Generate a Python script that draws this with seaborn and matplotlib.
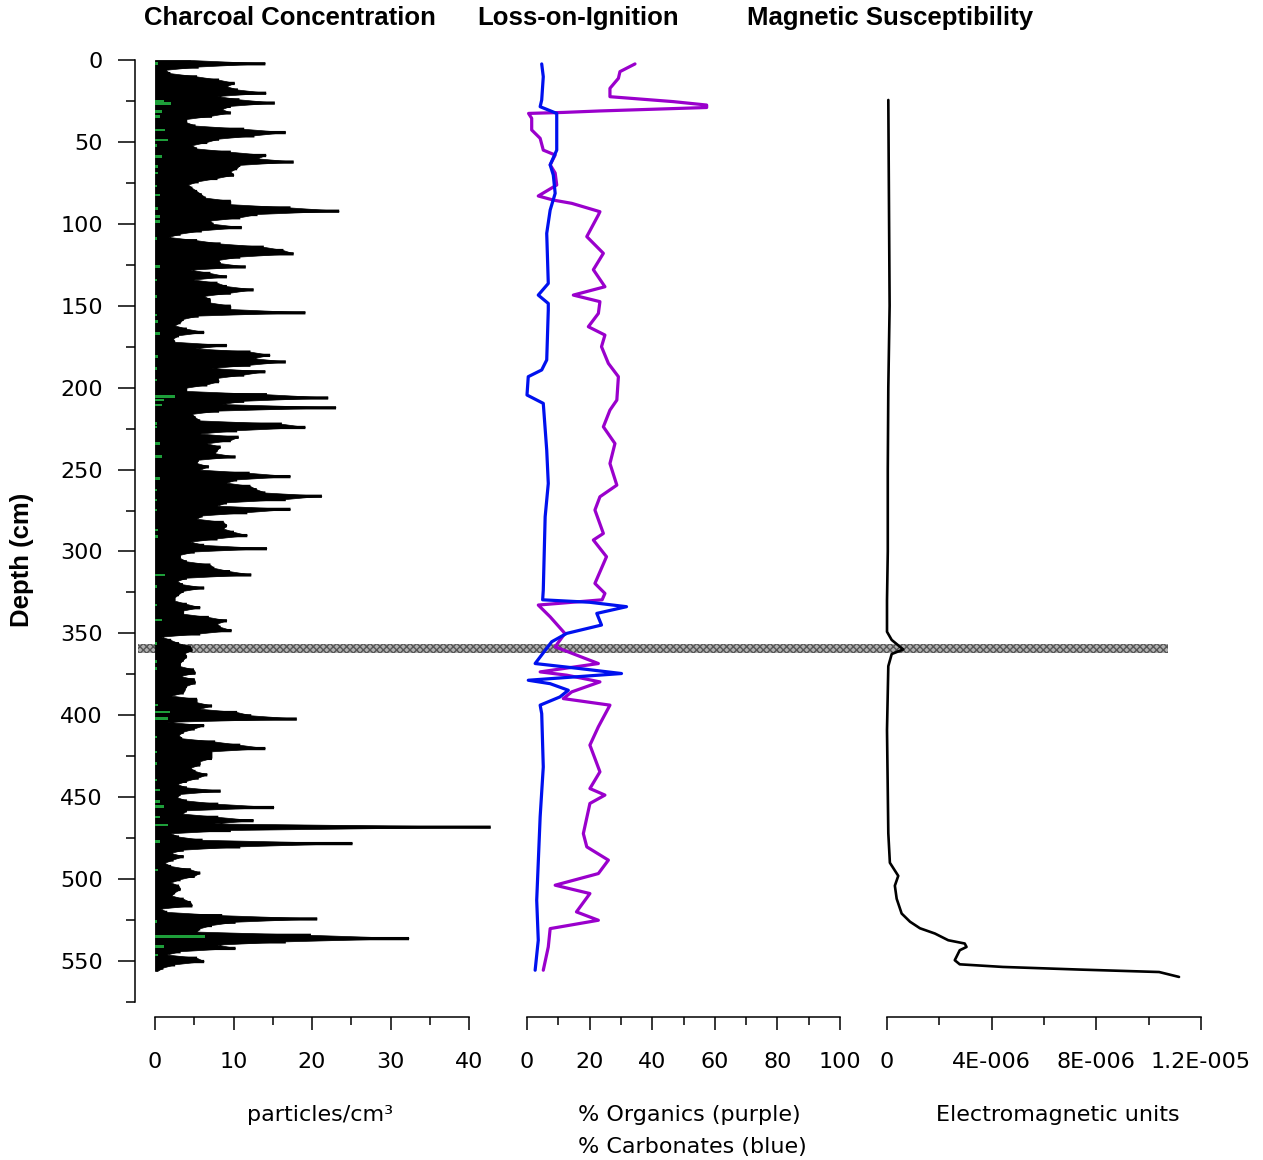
import numpy as np
import matplotlib
matplotlib.use("Agg")
import matplotlib.pyplot as plt
import matplotlib.transforms as mtransforms
from matplotlib.patches import Rectangle
from matplotlib.ticker import MultipleLocator, FixedLocator
import seaborn as sns

# Charcoal concentration (particles/cm3), one sample every 2 cm from 0 cm
charcoal = [
    4.5, 14.0, 5.5, 1.3, 1.9, 5.3, 8.1, 10.1, 9.1, 10.5,
    14.1, 7.9, 10.7, 15.2, 9.6, 8.5, 9.6, 7.2, 4.0, 4.0,
    5.1, 11.3, 16.6, 12.6, 8.1, 6.6, 4.7, 5.3, 9.6, 14.1,
    13.0, 17.6, 10.8, 10.4, 9.6, 10.0, 7.9, 5.5, 4.2, 4.7,
    5.3, 5.9, 6.4, 9.6, 9.6, 17.2, 23.4, 13.0, 10.8, 7.0,
    7.4, 11.0, 5.9, 3.2, 1.7, 5.3, 8.3, 13.8, 16.3, 17.6,
    10.8, 8.1, 8.3, 11.5, 4.5, 7.0, 9.1, 4.9, 7.9, 9.1,
    12.5, 9.6, 6.2, 7.0, 7.0, 9.6, 9.6, 19.1, 5.5, 3.6,
    3.2, 2.5, 4.0, 6.2, 3.0, 2.3, 2.5, 9.1, 5.1, 12.1,
    14.6, 12.5, 16.6, 12.1, 7.2, 14.0, 11.3, 8.0, 8.1, 6.6,
    4.0, 4.0, 14.2, 22.0, 11.3, 8.5, 23.0, 8.1, 4.7, 5.1,
    5.7, 16.1, 19.1, 10.4, 5.7, 10.6, 9.6, 6.6, 8.3, 7.9,
    7.6, 10.2, 5.5, 5.3, 6.8, 5.7, 12.0, 17.2, 10.4, 9.1,
    12.1, 12.9, 14.0, 21.2, 16.6, 9.1, 7.9, 17.2, 11.7, 6.0,
    5.3, 8.7, 9.1, 8.7, 10.0, 11.7, 7.9, 4.5, 6.2, 14.2,
    5.0, 3.2, 3.2, 4.0, 7.0, 7.5, 9.5, 12.2, 4.0, 2.8,
    3.5, 6.2, 3.6, 3.0, 2.5, 2.5, 4.0, 5.7, 3.6, 3.6,
    6.8, 9.1, 7.9, 8.3, 9.7, 5.7, 0.8, 2.0, 3.0, 4.5,
    4.7, 3.8, 4.0, 3.6, 3.2, 3.2, 4.9, 5.1, 3.2, 5.0,
    5.1, 4.0, 3.8, 3.6, 2.1, 5.3, 5.3, 7.2, 5.7, 10.4,
    12.2, 18.0, 1.5, 6.2, 5.0, 3.6, 3.0, 3.4, 7.6, 10.8,
    14.0, 7.2, 7.2, 7.2, 5.7, 5.7, 4.5, 5.1, 6.6, 5.5,
    4.0, 2.8, 4.0, 8.3, 3.2, 2.8, 4.0, 8.0, 15.1, 4.0,
    3.5, 8.0, 12.5, 7.5, 42.7, 9.6, 2.0, 3.0, 6.0, 25.1,
    10.8, 3.6, 2.0, 3.6, 2.3, 1.2, 2.0, 4.5, 5.7, 5.0,
    3.2, 2.0, 3.0, 3.2, 2.5, 2.1, 3.6, 4.5, 4.7, 0.7,
    1.5, 8.5, 20.6, 10.2, 7.2, 5.7, 5.3, 19.8, 32.3, 16.6,
    7.9, 10.2, 3.2, 1.5, 5.3, 6.2, 2.5, 1.0, 0.3,
]
charcoal_depth = np.arange(len(charcoal)) * 2

# second (green) charcoal series, only the visible spikes
green_depth = [2.0, 25.4, 26.5, 31.5, 34.6, 42.7, 48.8, 52.0, 59.0, 65.0,
               69.0, 77.0, 82.4, 90.5, 95.6, 98.7, 108.9, 126.0, 134.3, 144.5,
               155.7, 159.7, 166.9, 181.0, 188.3, 195.4, 205.5, 207.5, 210.6, 221.8,
               224.0, 234.0, 242.0, 255.4, 262.5, 268.6, 274.7, 286.9, 291.0, 314.4,
               321.5, 332.7, 341.9, 356.2, 367.3, 371.4, 393.8, 398.0, 402.0, 413.2,
               422.3, 429.4, 439.6, 445.7, 452.8, 455.8, 462.0, 467.0, 477.0, 494.5,
               526.0, 535.2, 541.3, 546.4]
green_value = [0.4, 1.1, 2.0, 0.9, 0.6, 1.3, 1.6, 0.3, 0.9, 0.4,
               0.4, 0.3, 0.7, 0.4, 0.6, 0.6, 0.3, 0.6, 0.3, 0.2,
               0.3, 0.4, 0.7, 0.4, 0.3, 0.3, 2.5, 1.2, 0.9, 0.3,
               0.3, 0.6, 0.9, 0.6, 0.3, 0.3, 0.3, 0.4, 0.4, 1.3,
               0.3, 0.3, 0.9, 0.2, 0.3, 0.3, 0.4, 1.9, 1.7, 0.3,
               0.3, 0.3, 0.3, 0.6, 0.6, 1.1, 0.6, 1.7, 0.7, 0.4,
               0.3, 6.4, 1.1, 0.4]

# Loss-on-ignition, % organics (purple)
organics_depth = [2.4, 7.1, 11.2, 17.3, 22.4, 25.4, 27.5, 29.0, 31.1, 32.0,
                  32.6, 35.6, 42.7, 47.8, 55.0, 58.0, 64.0, 69.0, 76.3, 83.0,
                  85.5, 87.5, 92.6, 94.6, 107.8, 118.0, 128.0, 138.4, 143.5, 147.5,
                  154.7, 162.8, 167.9, 175.0, 185.2, 193.3, 207.6, 213.7, 223.9, 234.1,
                  246.3, 259.5, 266.6, 274.7, 289.0, 293.0, 303.2, 319.5, 325.6, 329.5,
                  332.7, 339.9, 350.0, 358.2, 368.4, 373.5, 375.5, 379.6, 385.7, 389.8,
                  393.8, 407.0, 418.2, 434.5, 444.7, 448.7, 453.8, 472.2, 480.3, 488.4,
                  496.6, 503.7, 508.8, 520.0, 525.1, 530.2, 541.4, 555.6]
organics = [34.5, 29.7, 29.2, 26.5, 26.5, 46.7, 57.4, 57.4, 23.3, 11.6,
            0.5, 1.5, 1.5, 4.2, 5.2, 9.0, 7.4, 9.0, 9.5, 3.6,
            8.4, 14.3, 23.3, 22.8, 19.1, 24.4, 21.2, 24.9, 14.8, 23.3,
            22.8, 19.6, 24.9, 23.8, 26.0, 29.2, 28.7, 26.5, 24.4, 28.1,
            26.5, 28.7, 23.3, 21.7, 24.4, 21.2, 25.4, 21.7, 24.9, 24.0,
            3.6, 7.4, 12.1, 9.0, 22.8, 4.2, 12.7, 23.3, 14.3, 11.6,
            26.5, 22.8, 20.1, 23.3, 20.1, 24.9, 20.1, 18.0, 19.1, 26.0,
            22.8, 9.0, 20.1, 15.8, 22.8, 7.4, 6.8, 5.2]

# Loss-on-ignition, % carbonates (blue)
carbonates_depth = [2.4, 10.2, 24.4, 28.5, 32.6, 55.0, 64.0, 70.2, 81.4, 91.6,
                    105.8, 136.4, 143.5, 148.6, 152.6, 183.1, 189.2, 193.3, 204.5, 209.6,
                    238.1, 258.5, 278.8, 323.6, 329.5, 331.0, 333.7, 337.8, 344.9, 350.0,
                    355.1, 368.4, 371.5, 374.5, 378.6, 380.7, 384.7, 388.8, 393.8, 399.0,
                    431.5, 462.0, 512.9, 537.3, 555.6]
carbonates = [4.7, 5.2, 4.7, 4.2, 9.5, 9.5, 7.4, 8.4, 9.0, 7.4,
              6.3, 6.8, 3.6, 6.8, 6.8, 6.3, 4.7, 0.4, 0.0, 5.2,
              6.3, 6.8, 5.8, 5.2, 5.0, 20.0, 31.8, 22.3, 23.8, 12.7,
              7.9, 2.6, 17.0, 30.2, 0.4, 7.4, 13.2, 10.5, 4.2, 4.7,
              5.2, 4.2, 3.1, 3.6, 2.6]

# Magnetic susceptibility, in units of 1E-006 emu
magsus_depth = [24.4, 100.0, 150.0, 200.0, 250.0, 300.0, 330.0, 349.0, 354.0, 359.8,
                362.6, 370.0, 409.0, 472.0, 490.0, 498.0, 504.0, 512.0, 521.0, 526.0,
                530.0, 533.2, 537.3, 539.3, 541.4, 543.4, 549.5, 552.0, 553.6, 555.2,
                556.7, 559.7]
magsus_e6 = [0.05, 0.08, 0.10, 0.05, 0.03, 0.03, 0.0, 0.0, 0.18, 0.62,
             0.18, 0.05, 0.0, 0.05, 0.11, 0.43, 0.30, 0.37, 0.56, 0.88,
             1.26, 1.83, 2.34, 2.97, 3.04, 2.78, 2.59, 2.78, 4.43, 7.35,
             10.4, 11.16]

titles = ["Charcoal Concentration", "Loss-on-Ignition", "Magnetic Susceptibility"]
ms_ticks = [0, 4e-6, 8e-6, 1.2e-5]
ms_tick_labels = ["0", "4E-006", "8E-006", "1.2E-005"]
depth_major = list(range(0, 551, 50))
depth_minor = list(range(25, 576, 50))
band_top, band_bottom = 356.5, 362.0

sns.set_theme(style="ticks")
plt.rcParams["font.family"] = ["DejaVu Sans"]
plt.rcParams["text.color"] = "black"
plt.rcParams["axes.labelcolor"] = "black"
plt.rcParams["xtick.color"] = "black"
plt.rcParams["ytick.color"] = "black"

W, H = 1263, 1160
TOP, BOT = 60, 1002
DMAX = 575
fig = plt.figure(figsize=(W / 100, H / 100), dpi=100)
fig.patch.set_facecolor("white")


def panel(x0, x1):
    ax = fig.add_axes([x0 / W, 1 - BOT / H, (x1 - x0) / W, (BOT - TOP) / H])
    ax.patch.set_visible(False)
    ax.set_ylim(DMAX, 0)
    return ax


def style_x(ax, xmax):
    for s in ("left", "top", "right"):
        ax.spines[s].set_visible(False)
    ax.spines["bottom"].set_position(("outward", 10.8))
    ax.spines["bottom"].set_linewidth(1.1)
    ax.spines["bottom"].set_color("black")
    ax.set_xlim(0, xmax)
    ax.set_ylim(DMAX, 0)
    ax.set_yticks([])
    ax.tick_params(axis="x", which="major", bottom=True, direction="out",
                   length=9.4, width=1.1, pad=16, labelsize=16, colors="black")
    ax.tick_params(axis="x", which="minor", bottom=True, direction="out",
                   length=5.5, width=1.1, colors="black")
    ax.set_xlabel("")
    ax.set_ylabel("")


# depth axis
ax_d = panel(135, 155)
for s in ("right", "top", "bottom"):
    ax_d.spines[s].set_visible(False)
ax_d.spines["left"].set_linewidth(1.1)
ax_d.spines["left"].set_color("black")
ax_d.set_xticks([])
ax_d.yaxis.set_major_locator(FixedLocator(depth_major))
ax_d.yaxis.set_minor_locator(FixedLocator(depth_minor))
ax_d.tick_params(axis="y", which="major", left=True, direction="out", length=12.2,
                 width=1.1, pad=11, labelsize=16, colors="black")
ax_d.tick_params(axis="y", which="minor", left=True, direction="out", length=6.5,
                 width=1.1, colors="black")

# charcoal: sample bars plus a linear envelope between samples
ax_c = panel(155, 469)
ax_c.fill_betweenx(charcoal_depth, 0, charcoal, step="mid", color="black",
                   lw=0, clip_on=False, zorder=2)
ax_c.fill_betweenx(charcoal_depth, 0, charcoal, color="black",
                   lw=0.5, edgecolor="black", clip_on=False, zorder=2)
ax_c.barh(green_depth, green_value, height=1.6, color="#1e9e3a", lw=0,
          zorder=3, clip_on=False)
style_x(ax_c, 40)
ax_c.xaxis.set_major_locator(MultipleLocator(10))
ax_c.xaxis.set_minor_locator(MultipleLocator(5))

# loss on ignition
ax_l = panel(527, 840)
sns.lineplot(x=organics, y=organics_depth, sort=False, estimator=None,
             color="#9a00cc", lw=2.3, ax=ax_l)
sns.lineplot(x=carbonates, y=carbonates_depth, sort=False, estimator=None,
             color="#0011ee", lw=2.3, ax=ax_l)
style_x(ax_l, 100)
ax_l.xaxis.set_major_locator(MultipleLocator(20))
ax_l.xaxis.set_minor_locator(MultipleLocator(10))
for ln in ax_l.lines:
    ln.set_clip_on(False)

# magnetic susceptibility
ax_m = panel(887, 1201)
sns.lineplot(x=np.array(magsus_e6) * 1e-6, y=magsus_depth, sort=False,
             estimator=None, color="black", lw=1.9, ax=ax_m)
style_x(ax_m, 1.2e-5)
ax_m.set_xticks(ms_ticks, ms_tick_labels)
ax_m.xaxis.set_minor_locator(MultipleLocator(2e-6))
for ln in ax_m.lines:
    ln.set_clip_on(False)

# hatched band across all panels
trans = mtransforms.blended_transform_factory(fig.transFigure, ax_c.transData)
band = Rectangle((138 / W, band_top), (1168 - 138) / W, band_bottom - band_top,
                 transform=trans, facecolor="#b0b0b0", edgecolor="#555555",
                 hatch="xxxxx", lw=0, zorder=-1)
fig.add_artist(band)

# titles and labels
title_font = dict(fontweight="bold", fontsize=18.5, color="black",
                  family=["Liberation Sans", "DejaVu Sans"])
for xc, t in zip([289.5, 578, 890], titles):
    fig.text(xc / W, 1 - 18 / H, t, ha="center", va="center", **title_font)
fig.text(22 / W, 1 - 560 / H, "Depth (cm)", rotation=90, ha="center",
         va="center", **title_font)

label_font = dict(fontsize=16, color="black", va="center")
fig.text(320 / W, 1 - 1115 / H, "particles/cm\u00b3", ha="center", **label_font)
fig.text(578 / W, 1 - 1115 / H, "% Organics (purple)", ha="left", **label_font)
fig.text(578 / W, 1 - 1147 / H, "% Carbonates (blue)", ha="left", **label_font)
fig.text(1058 / W, 1 - 1115 / H, "Electromagnetic units", ha="center", **label_font)

fig.savefig("out.png", dpi=100, facecolor="white")
